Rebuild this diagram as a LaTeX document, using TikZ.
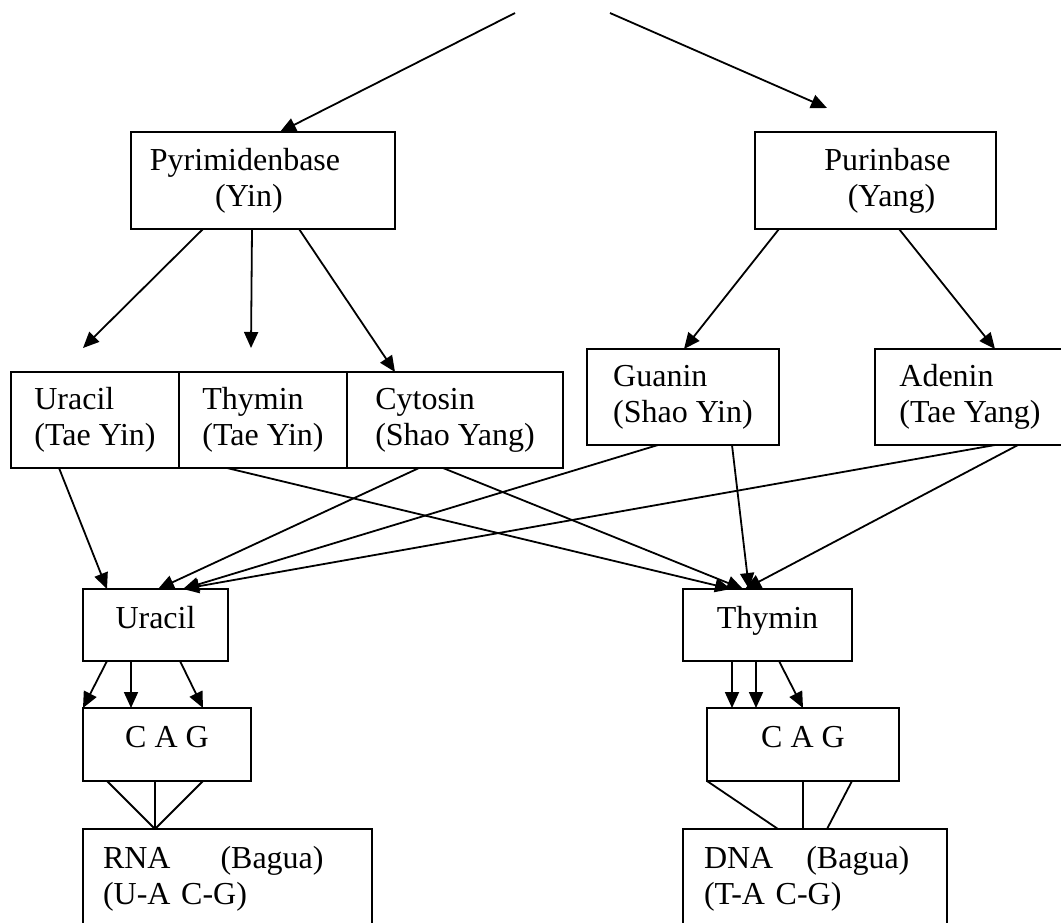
\documentclass[tikz,border=0pt]{standalone}
\usepackage{fontspec}
\setmainfont{Liberation Serif}
\usetikzlibrary{calc}
\usetikzlibrary{positioning}
\usetikzlibrary{arrows.meta}

\tikzset{
  basebox/.style={draw,rectangle,outer sep=0pt,inner sep=0pt,line width=1pt,font=\fontsize{16}{18}\selectfont},
  oneline/.style={basebox,text height=11pt,text depth=8pt},
  twoline/.style={basebox,align=left,minimum height=48pt},
  arr/.style={line width=0.9pt,-{Triangle[length=8pt,width=7pt]}},
  link/.style={line width=0.9pt}
}

\begin{document}
\begin{tikzpicture}[x=0.5pt,y=-0.5pt]

\useasboundingbox (0,0) rectangle (1061,922);
\clip (0,0) rectangle (1061,922);

\node[basebox,align=center,minimum width=132pt,minimum height=48.5pt] (pyr) at (263,180.5) {Pyrimidenbase\hspace*{18pt}\\(Yin)\hspace*{14pt}};
\node[basebox,align=center,minimum width=120.5pt,minimum height=48.5pt] (pur) at (875.5,180.5) {\hspace*{12pt}Purinbase\\\hspace*{16pt}(Yang)};

\node[twoline,minimum width=84pt] (ura1) at (95,420) {Uracil\\(Tae Yin)};
\node[twoline,minimum width=84pt,right=0pt of ura1] (thy1) {Thymin\\(Tae Yin)};
\node[twoline,minimum width=108pt,right=0pt of thy1] (cyt) {Cytosin\\(Shao Yang)};
\node[twoline,minimum width=96pt] (gua) at (683,397) {Guanin\\(Shao Yin)};
\node[twoline,minimum width=95pt] (ade) at (970,397) {Adenin\\(Tae Yang)};

\node[oneline,minimum width=72.5pt,minimum height=36pt] (ura2) at (155.5,625) {Uracil};
\node[oneline,minimum width=84.5pt,minimum height=36pt] (thy2) at (767.5,625) {Thymin};

\node[oneline,minimum width=84pt,minimum height=36.5pt] (cag1) at (167,744.5) {C A G};
\node[oneline,minimum width=96pt,minimum height=36.5pt] (cag2) at (803,744.5) {C A G};

\node[basebox,anchor=north west,align=left,text width=124.5pt,inner xsep=10pt,inner ysep=8.5pt,text height=11pt,text depth=70pt] (rna) at (83,829) {RNA\hspace{25pt}(Bagua)\\(U-A C-G)};
\node[basebox,anchor=north west,align=left,text width=111pt,inner xsep=10.5pt,inner ysep=8.5pt,text height=11pt,text depth=70pt] (dna) at (683,829) {DNA\hspace{16.5pt}(Bagua)\\(T-A C-G)};

% top
\coordinate (topl) at (515,13);
\coordinate (topr) at (610,13);
\draw[arr] (topl) -- ($(pyr.north west)+(149,0)$);
\draw[arr] (topr) -- ($(pur.north west)+(72,-24)$);

% Pyrimidenbase / Purinbase
\draw[arr] ($(pyr.south west)+(72,0)$) -- ($(ura1.north west)+(72,-24)$);
\draw[arr] ($(pyr.south west)+(121,0)$) -- ($(thy1.north west)+(72,-24)$);
\draw[arr] ($(pyr.south west)+(168,0)$) -- ($(cyt.north west)+(48,0)$);
\draw[arr] ($(pur.south west)+(24,0)$) -- ($(gua.north west)+(97,0)$);
\draw[arr] ($(pur.south west)+(144,0)$) -- ($(ade.north west)+(120,0)$);

% to Uracil
\draw[arr] ($(ura1.south west)+(48,0)$) -- ($(ura2.north west)+(24,0)$);
\draw[arr] ($(cyt.south west)+(72,0)$) -- ($(ura2.north west)+(75,0)$);
\draw[arr] ($(gua.south west)+(71,0)$) -- ($(ura2.north west)+(100,0)$);
\draw[arr] ($(ade.south west)+(120,0)$) -- ($(ura2.north west)+(100,0)$);

% to Thymin
\draw[arr] ($(thy1.south west)+(48,0)$) -- ($(thy2.north west)+(48,0)$);
\draw[arr] ($(cyt.south west)+(96,0)$) -- ($(thy2.north west)+(60,0)$);
\draw[arr] ($(gua.south west)+(145,0)$) -- ($(thy2.north west)+(66,0)$);
\draw[arr] ($(ade.south west)+(143,0)$) -- ($(thy2.north west)+(62,0)$);

% C A G
\draw[arr] ($(ura2.south west)+(24,0)$) -- (cag1.north west);
\draw[arr] ($(ura2.south west)+(48,0)$) -- ($(cag1.north west)+(48,0)$);
\draw[arr] ($(ura2.south west)+(97,0)$) -- ($(cag1.north west)+(120,0)$);
\draw[arr] ($(thy2.south west)+(49,0)$) -- ($(cag2.north west)+(25,0)$);
\draw[arr] ($(thy2.south west)+(73,0)$) -- ($(cag2.north west)+(49,0)$);
\draw[arr] ($(thy2.south west)+(96,0)$) -- ($(cag2.north west)+(96,0)$);

% RNA / DNA
\draw[link] ($(cag1.south west)+(24,0)$) -- ($(rna.north west)+(72,0)$);
\draw[link] ($(cag1.south west)+(72,0)$) -- ($(rna.north west)+(72,0)$);
\draw[link] ($(cag1.south west)+(120,0)$) -- ($(rna.north west)+(72,0)$);
\draw[link] (cag2.south west) -- ($(dna.north west)+(95,0)$);
\draw[link] ($(cag2.south west)+(96,0)$) -- ($(dna.north west)+(120,0)$);
\draw[link] ($(cag2.south west)+(145,0)$) -- ($(dna.north west)+(144,0)$);

\end{tikzpicture}
\end{document}
